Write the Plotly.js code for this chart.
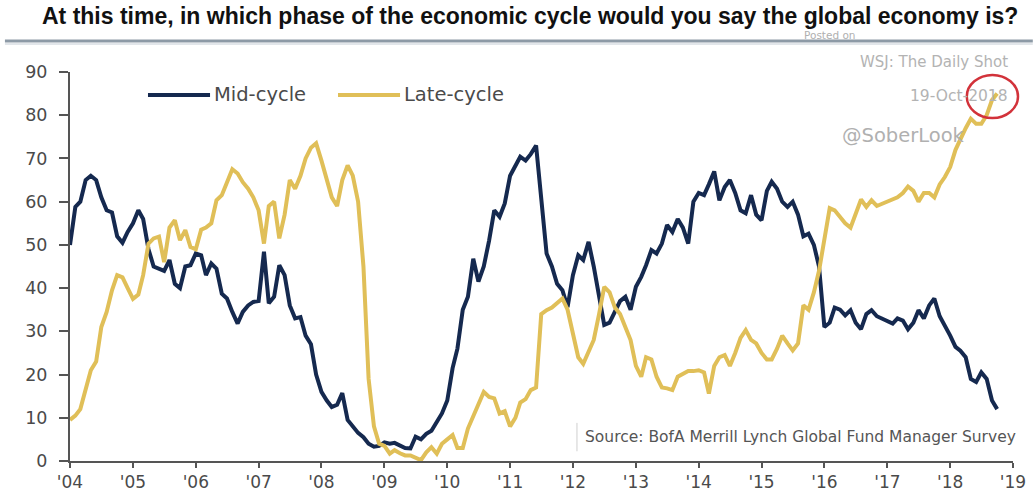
<!DOCTYPE html>
<html>
<head>
<meta charset="utf-8">
<script src="https://cdn.plot.ly/plotly-3.0.1.min.js"></script>
<style>html,body{margin:0;padding:0;background:#fff;}#chart{width:1033px;height:495px;}</style>
</head>
<body>
<div id="chart"></div>
<script>
// Monthly survey shares (%), Jan..Dec of each year (2018: Jan..Oct)
const years = [2004,2005,2006,2007,2008,2009,2010,2011,2012,2013,2014,2015,2016,2017,2018];

const mid2004 = [50, 58.8, 60, 65, 66, 65, 61, 58, 57.5, 52, 50.5, 53];
const mid2005 = [55, 58, 56, 49, 45, 44.6, 44, 46.5, 41, 40, 45, 45.3];
const mid2006 = [48, 47.6, 43, 45.7, 44.5, 38.7, 37.6, 34.5, 31.8, 34.5, 36, 36.8];
const mid2007 = [37, 48.4, 36.5, 38, 45.3, 43, 36, 33, 33.3, 29, 27, 20];
const mid2008 = [16, 14, 12.5, 13, 15.7, 9.5, 8, 6.5, 5.5, 4, 3.3, 3.5];
const mid2009 = [4.3, 4, 4.2, 3.5, 3, 2.9, 5.6, 5, 6.3, 7, 9, 11];
const mid2010 = [14, 21.5, 26, 35, 38, 46.8, 41.5, 45, 51, 58, 56.5, 59.6];
const mid2011 = [66, 68.4, 70.4, 69.5, 71, 73, 60, 48, 45, 41, 39.5, 35.6];
const mid2012 = [43, 47.6, 46.5, 50.7, 45, 38.7, 31.5, 32, 34.5, 37, 38, 35];
const mid2013 = [40.3, 42.6, 45.3, 48.8, 48, 50.3, 54.6, 53, 56, 54, 50.3, 60];
const mid2014 = [62, 61.5, 64, 67, 60.3, 63.4, 65, 62, 58, 57.3, 61.5, 57];
const mid2015 = [55.7, 62.5, 64.6, 63, 60, 58.8, 60, 57, 52, 52.6, 50, 45];
const mid2016 = [31, 32, 35.5, 35, 33.7, 34.9, 32, 30.5, 34, 34.9, 33.5, 33];
const mid2017 = [32.5, 31.8, 33, 32.5, 30.5, 32, 34.9, 33, 36, 37.6, 33.5, 31.4];
const mid2018 = [29, 26.4, 25.5, 24, 19, 18.3, 20.5, 19, 14, 12];

const late2004 = [9.5, 10.5, 12, 17, 21, 23, 31, 34.5, 39.5, 43, 42.5, 40];
const late2005 = [37.5, 38.5, 43, 50.3, 51.5, 51.9, 46, 54, 55.7, 51.1, 53.4, 49.5];
const late2006 = [49, 53.5, 54, 55, 60.3, 61.5, 64.5, 67.5, 66.5, 64.5, 63, 61];
const late2007 = [58, 50.3, 59, 60, 51.5, 57, 65, 63, 66, 70, 72.5, 73.5];
const late2008 = [69.5, 65, 61, 59, 65, 68.4, 66, 60, 45, 19, 8, 4];
const late2009 = [3.5, 1.7, 2.5, 1.8, 1.3, 1.3, 0.8, 0.2, 2, 3.2, 1.7, 4];
const late2010 = [5, 6, 3, 3, 7.5, 10.5, 13.5, 16, 14.8, 14.5, 11, 11.5];
const late2011 = [8, 10, 13.5, 14.3, 16.4, 17, 34, 34.9, 35.5, 36.4, 37.6, 35];
const late2012 = [29, 24, 22.5, 25.5, 28, 34, 40.3, 39, 35.5, 34, 31, 28];
const late2013 = [22, 19.5, 24, 23.5, 19.5, 17, 16.8, 16.4, 19.5, 20.2, 20.8, 20.8];
const late2014 = [21, 20.5, 15.6, 22, 24, 24.5, 22, 25, 28.5, 30.3, 28, 27.2];
const late2015 = [25, 23.5, 23.5, 26, 29, 27.2, 25.6, 27.2, 36, 35, 39, 44];
const late2016 = [52, 58.5, 58, 56.5, 55, 54, 57.5, 60.5, 58.8, 60.3, 59, 59.5];
const late2017 = [60.2, 60.7, 61, 62, 63.5, 62.5, 60, 62, 62, 61, 64, 65.7];
const late2018 = [68, 72, 74.5, 77, 79.2, 78, 78, 80, 83.5, 85];

const midByYear = [mid2004,mid2005,mid2006,mid2007,mid2008,mid2009,mid2010,mid2011,mid2012,mid2013,mid2014,mid2015,mid2016,mid2017,mid2018];
const lateByYear = [late2004,late2005,late2006,late2007,late2008,late2009,late2010,late2011,late2012,late2013,late2014,late2015,late2016,late2017,late2018];

const seriesNames = ['Mid-cycle', 'Late-cycle'];
const titleText = 'At this time, in which phase of the economic cycle would you say the global economy is?';
const sourceText = 'Source: BofA Merrill Lynch Global Fund Manager Survey';
const creditTexts = ['WSJ: The Daily Shot', '19-Oct-2018', '@SoberLook', 'Posted on'];

function flatten(byYear) {
  const xs = [], ys = [];
  byYear.forEach((arr, i) => {
    arr.forEach((v, j) => {
      xs.push(years[i] + '-' + String(j + 1).padStart(2, '0') + '-01');
      ys.push(v);
    });
  });
  return {xs, ys};
}
const mid = flatten(midByYear);
const late = flatten(lateByYear);

const NAVY = '#15294f';
const GOLD = '#e0bf58';
const AXIS = '#555555';
const TXT = '#4a4a4a';
const FONT = '"DejaVu Sans", Arial, sans-serif';

const traces = [
  {x: mid.xs, y: mid.ys, type: 'scatter', mode: 'lines', name: seriesNames[0],
   line: {color: NAVY, width: 4}},
  {x: late.xs, y: late.ys, type: 'scatter', mode: 'lines', name: seriesNames[1],
   line: {color: GOLD, width: 4}}
];

// legend drawn as paper-anchored samples (positions of the legend box only)
const legY = 0.941;
const layout = {
  width: 1033, height: 495,
  margin: {l: 70, r: 20, t: 72, b: 34},
  paper_bgcolor: '#ffffff', plot_bgcolor: '#ffffff',
  font: {family: FONT, color: TXT, size: 15},
  title: {text: '<b>' + titleText + '</b>',
          font: {family: '"Liberation Sans", Arial, sans-serif', size: 23, color: '#111'},
          x: 0.488, xanchor: 'center', xref: 'paper', y: 0.9677, yanchor: 'middle', yref: 'container'},
  showlegend: false,
  xaxis: {type: 'date', range: ['2004-01-01', '2019-01-01'], tickformat: "'%y", dtick: 'M12', tick0: '2004-01-01',
          showline: true, linecolor: AXIS, linewidth: 2, ticks: 'outside', ticklen: 5, tickwidth: 2, tickcolor: AXIS,
          showgrid: false, zeroline: false, tickfont: {size: 17, color: TXT}, fixedrange: true},
  yaxis: {range: [0, 90], dtick: 10, showline: true, linecolor: AXIS, linewidth: 2, ticks: 'outside', ticklen: 9,
          tickwidth: 2, tickcolor: AXIS, showgrid: false, zeroline: false, tickfont: {size: 17.5, color: TXT},
          ticklabelstandoff: 8, fixedrange: true},
  shapes: [
    {type: 'line', xref: 'paper', yref: 'paper', x0: -0.069, x1: 1.021, y0: 1.080, y1: 1.080,
     line: {color: '#8d9aa6', width: 3}},
    {type: 'line', xref: 'paper', yref: 'paper', x0: -0.069, x1: 1.021, y0: 1.072, y1: 1.072,
     line: {color: '#d9dee3', width: 1.5}},
    {type: 'line', xref: 'paper', yref: 'paper', x0: 0.5376, x1: 0.5376, y0: 0.025, y1: 0.098,
     line: {color: '#cfcfcf', width: 1}},
    {type: 'circle', xref: 'paper', yref: 'paper', x0: 0.951, x1: 1.0053, y0: 0.8817, y1: 0.9923,
     line: {color: '#d2323a', width: 2.5}},
    {type: 'line', xref: 'paper', yref: 'paper', x0: 0.0827, x1: 0.1485, y0: legY, y1: legY,
     line: {color: NAVY, width: 4}},
    {type: 'line', xref: 'paper', yref: 'paper', x0: 0.2842, x1: 0.35, y0: legY, y1: legY,
     line: {color: GOLD, width: 4}}
  ],
  annotations: [
    {text: seriesNames[0], xref: 'paper', yref: 'paper', x: 0.1505, y: legY, xanchor: 'left', yanchor: 'middle',
     showarrow: false, font: {size: 19.5, color: TXT}},
    {text: seriesNames[1], xref: 'paper', yref: 'paper', x: 0.352, y: legY, xanchor: 'left', yanchor: 'middle',
     showarrow: false, font: {size: 19.5, color: TXT}},
    {text: creditTexts[3], xref: 'paper', yref: 'paper', x: 0.806, y: 1.0951, xanchor: 'center', yanchor: 'middle',
     showarrow: false, font: {size: 10.5, color: '#b0b0b0'}, borderpad: 0},
    {text: creditTexts[0], xref: 'paper', yref: 'paper', x: 0.997, y: 1.0257, xanchor: 'right', yanchor: 'middle',
     showarrow: false, font: {size: 15, color: '#b3b3b3'}},
    {text: creditTexts[1], xref: 'paper', yref: 'paper', x: 0.997, y: 0.938, xanchor: 'right', yanchor: 'middle',
     showarrow: false, font: {size: 15.5, color: '#b3b3b3'}},
    {text: creditTexts[2], xref: 'paper', yref: 'paper', x: 0.951, y: 0.838, xanchor: 'right', yanchor: 'middle',
     showarrow: false, font: {size: 19.5, color: '#b0b0b0'}},
    {text: sourceText, xref: 'paper', yref: 'paper', x: 0.544, y: 0.0617, xanchor: 'left', yanchor: 'middle',
     showarrow: false, font: {size: 15.5, color: '#555'}, bgcolor: '#ffffff'}
  ]
};

Plotly.newPlot('chart', traces, layout, {displayModeBar: false, staticPlot: true});
</script>
</body>
</html>
